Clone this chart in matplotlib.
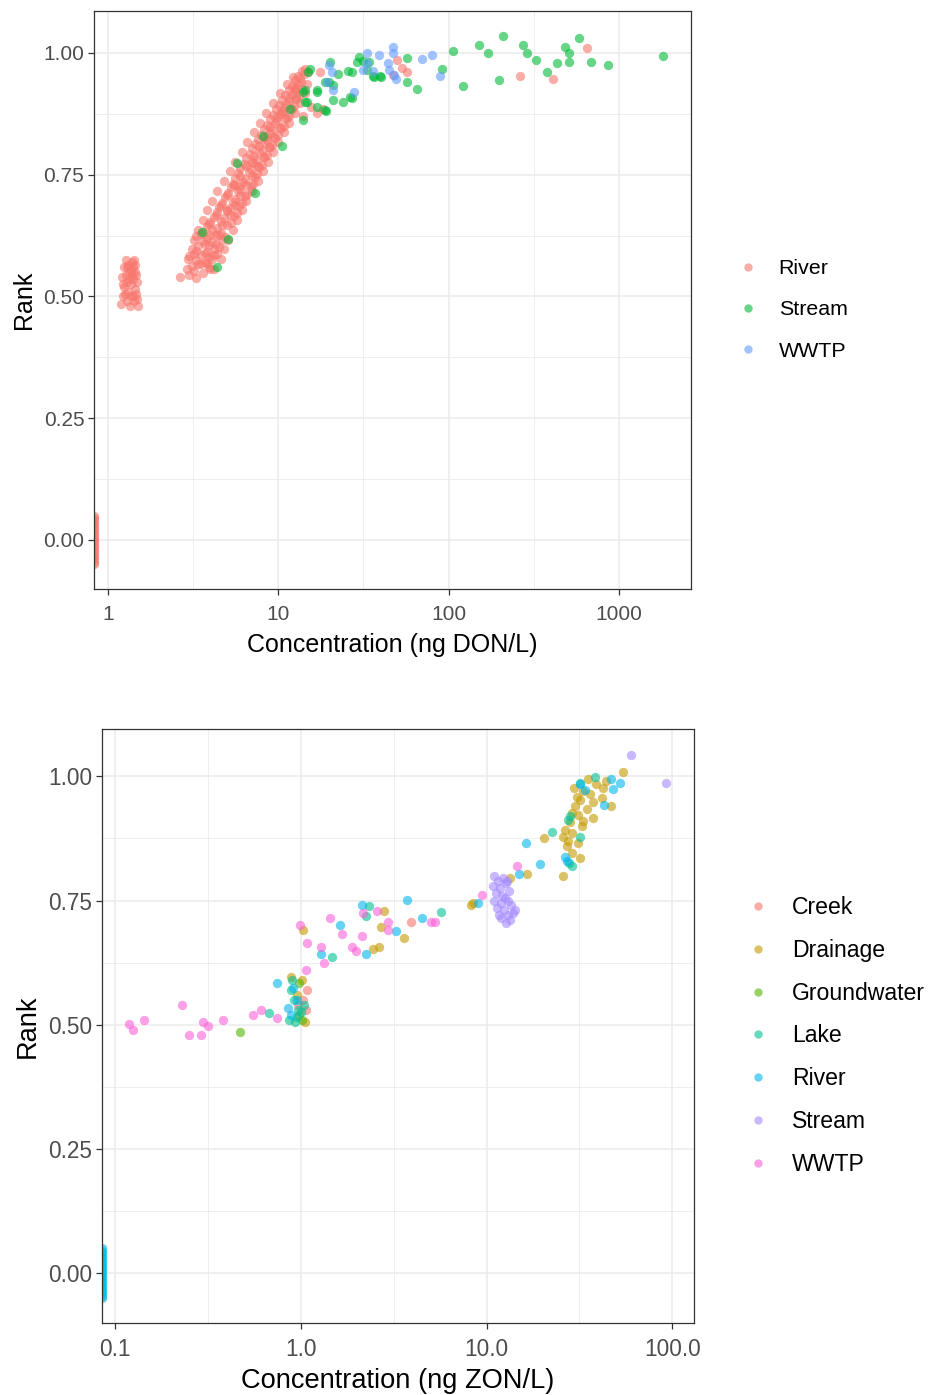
import matplotlib.pyplot as plt
from matplotlib.lines import Line2D
from matplotlib.ticker import FixedLocator, FixedFormatter, NullFormatter

plt.rcParams["font.family"] = ["Liberation Sans", "DejaVu Sans"]

# ggplot hue palettes
don_colors = {"River": "#F8766D", "Stream": "#00BA38", "WWTP": "#619CFF"}
zon_colors = {"Creek": "#F8766D", "Drainage": "#C49A00", "Groundwater": "#53B400",
              "Lake": "#00C094", "River": "#00B6EB", "Stream": "#A58AFF", "WWTP": "#FB61D7"}

# ---------------- DON (ng/L) vs rank ----------------
don_river_conc = [
    1.20, 1.22, 1.25, 1.21, 1.24, 1.27, 1.30, 1.32, 1.29, 1.33, 1.31, 1.35,
    1.37, 1.36, 1.38, 1.40, 1.39, 1.42, 1.44, 1.41, 1.45, 1.43, 1.47, 1.48,
    1.46, 1.50, 1.26, 1.28, 1.34, 1.40, 1.23, 1.45, 1.36, 1.30, 1.49,
    2.65, 3.0, 3.3, 3.2, 3.6, 4.2, 3.1, 3.5, 3.9, 3.3, 3.7, 4.1,
    3.0, 3.5, 3.9, 4.4, 3.3, 3.8, 4.2, 3.4, 3.9, 4.5, 3.6, 4.1, 4.7,
    3.3, 3.8, 4.3, 4.9, 3.6, 4.1, 4.6, 3.8, 4.4, 5.0, 4.0, 4.6, 5.3,
    4.2, 4.8, 5.5, 4.4, 5.0, 5.7, 4.5, 5.2, 5.9, 4.7, 5.4, 6.1,
    4.9, 5.6, 6.4, 5.1, 5.8, 6.6, 5.3, 6.0, 6.9, 5.4, 6.2, 7.1,
    5.6, 6.4, 7.3, 5.8, 6.7, 7.5, 6.0, 6.9, 7.7, 6.3, 7.1, 8.0,
    6.5, 7.4, 8.3, 6.8, 7.7, 8.6, 7.0, 8.0, 8.9, 7.3, 8.3, 9.2,
    7.6, 8.6, 9.6, 7.9, 8.9, 10.0, 8.2, 9.2, 10.4, 8.6, 9.6, 10.8,
    8.9, 9.9, 11.2, 9.3, 10.3, 11.6, 9.7, 10.7, 12.0, 10.1, 11.1, 12.4,
    10.5, 11.6, 12.8, 11.0, 12.0, 13.3, 11.5, 12.5, 13.8, 12.0, 13.0,
    12.5, 13.6, 13.1, 14.2, 13.8, 15.0,
    2.9, 4.0, 2.95, 4.6, 3.1, 4.8, 3.2, 5.1, 3.4, 5.4, 3.6, 5.7,
    3.8, 6.1, 4.1, 6.5, 4.4, 7.0, 4.8, 7.6, 5.2, 8.1, 5.6, 8.7,
    6.1, 9.3, 6.6, 10.0, 7.2, 10.8, 7.8, 11.6, 8.5, 12.5, 9.3, 13.4,
    10.2, 14.3, 11.2, 14.8,
    4.0, 5.0, 5.9, 7.0, 8.6, 10.5, 12.6,
    3.4, 3.8, 3.2, 3.7, 4.2, 3.7, 4.3, 3.5, 4.5, 3.9, 4.7, 4.3, 5.2,
    4.6, 5.6, 5.0, 6.0, 5.5, 6.5, 6.0, 7.0, 6.5, 7.6, 7.2, 8.2,
    7.7, 8.8, 8.3, 9.4, 9.0, 10.2, 9.8, 11.0, 10.8, 11.9, 11.6, 12.8,
    12.6, 13.5, 14.4,
    14.0, 15.5, 17.0, 18.3, 17.6, 12.2, 47.0, 49.6, 57.0, 53.0, 261, 410, 650,
]
don_river_rank = [
    0.485, 0.500, 0.520, 0.540, 0.560, 0.575, 0.490, 0.510, 0.530, 0.550, 0.565, 0.480,
    0.500, 0.525, 0.545, 0.560, 0.570, 0.490, 0.515, 0.535, 0.550, 0.575, 0.505, 0.530,
    0.545, 0.480, 0.505, 0.545, 0.535, 0.500, 0.525, 0.565, 0.555, 0.560, 0.495,
    0.540, 0.545, 0.538, 0.552, 0.549, 0.556, 0.563, 0.566, 0.560, 0.574, 0.571, 0.578,
    0.583, 0.586, 0.581, 0.588, 0.594, 0.592, 0.597, 0.603, 0.606, 0.601, 0.613, 0.611, 0.616,
    0.624, 0.621, 0.626, 0.622, 0.633, 0.636, 0.631, 0.644, 0.641, 0.646, 0.652, 0.655, 0.651,
    0.664, 0.661, 0.666, 0.673, 0.676, 0.671, 0.684, 0.681, 0.686, 0.692, 0.695, 0.691,
    0.704, 0.701, 0.706, 0.713, 0.716, 0.711, 0.724, 0.721, 0.726, 0.732, 0.735, 0.731,
    0.744, 0.741, 0.746, 0.753, 0.756, 0.751, 0.764, 0.761, 0.766, 0.772, 0.775, 0.771,
    0.784, 0.781, 0.786, 0.793, 0.796, 0.791, 0.804, 0.801, 0.806, 0.813, 0.816, 0.811,
    0.824, 0.821, 0.826, 0.832, 0.835, 0.831, 0.844, 0.841, 0.846, 0.853, 0.856, 0.851,
    0.864, 0.861, 0.866, 0.872, 0.875, 0.871, 0.884, 0.881, 0.886, 0.893, 0.896, 0.891,
    0.904, 0.901, 0.906, 0.913, 0.916, 0.911, 0.924, 0.921, 0.926, 0.933, 0.936,
    0.944, 0.941, 0.953, 0.956, 0.964, 0.961,
    0.557, 0.557, 0.577, 0.577, 0.597, 0.597, 0.617, 0.617, 0.637, 0.637, 0.657, 0.657,
    0.677, 0.677, 0.697, 0.697, 0.717, 0.717, 0.737, 0.737, 0.757, 0.757, 0.777, 0.777,
    0.797, 0.797, 0.817, 0.817, 0.837, 0.837, 0.857, 0.857, 0.877, 0.877, 0.897, 0.897,
    0.917, 0.917, 0.937, 0.937,
    0.627, 0.677, 0.727, 0.777, 0.827, 0.877, 0.927,
    0.567, 0.568, 0.588, 0.589, 0.586, 0.607, 0.608, 0.628, 0.626, 0.648, 0.647, 0.668, 0.667,
    0.688, 0.687, 0.708, 0.707, 0.728, 0.729, 0.748, 0.747, 0.768, 0.767, 0.788, 0.787,
    0.808, 0.807, 0.828, 0.827, 0.848, 0.847, 0.868, 0.867, 0.888, 0.887, 0.908, 0.907,
    0.928, 0.948, 0.968,
    0.870, 0.889, 0.876, 0.884, 0.962, 0.950, 0.955, 0.986, 0.962, 0.970, 0.953, 0.947, 1.010,
]

don_stream_conc = [
    106, 150, 170, 208, 275, 288, 325, 432, 377, 482, 509, 509,
    581, 686, 860, 1812, 197, 121, 92, 65, 57, 57, 39.5, 36,
    34, 29, 30, 27, 25.6, 22.4, 20.2, 15.4, 18.8, 21, 21, 24,
    27, 16.9, 14.3, 18.8, 14.3, 17, 19, 20, 31.4, 40, 36.4,
    3.56, 4.4, 5.1, 5.7, 7.3, 8.1, 10.5, 11.7, 13.9, 13.9, 14.7,
    14.9, 16.8, 26.3, 33,
]
don_stream_rank = [
    1.005, 1.017, 1.000, 1.035, 1.017, 0.999, 0.986, 0.980, 0.962, 1.013, 1.000, 0.982,
    1.031, 0.982, 0.976, 0.994, 0.945, 0.933, 0.968, 0.927, 0.941, 0.990, 0.953, 0.953,
    0.982, 0.982, 0.992, 0.962, 0.964, 0.957, 0.982, 0.968, 0.941, 0.935, 0.904, 0.900,
    0.908, 0.920, 0.900, 0.883, 0.925, 0.890, 0.880, 0.940, 0.984, 0.950, 0.950,
    0.633, 0.560, 0.618, 0.775, 0.713, 0.830, 0.810, 0.884, 0.863, 0.920, 0.900,
    0.960, 0.925, 0.910, 0.965,
]

don_wwtp_conc = [33, 39, 47, 47, 70, 80, 89, 31.4, 36, 45, 49, 20.6,
                 20, 19.3, 21, 28, 33, 44, 48]
don_wwtp_rank = [1.000, 0.995, 1.013, 1.000, 0.988, 0.995, 0.953, 0.966, 0.964, 0.966, 0.947, 0.962,
                 0.975, 0.941, 0.925, 0.920, 0.980, 0.980, 0.955]

# non-detects (zero concentration) sit on the left edge of the log axis
don_nd_rank = [-0.05, -0.045, -0.04, -0.035, -0.03, -0.025, -0.02, -0.015, -0.01, -0.005, 0.0,
               0.005, 0.01, 0.015, 0.02, 0.025, 0.03, 0.035, 0.04, 0.045, 0.05]

# ---------------- ZON (ng/L) vs rank ----------------
zon_creek_conc = [3.94, 1.08, 1.03, 0.97, 1.06]
zon_creek_rank = [0.706, 0.569, 0.550, 0.540, 0.530]

zon_drain_conc = [
    54.6, 35, 29.5, 30.5, 32, 37.5, 41.8, 42.5, 47, 34.6, 29, 31,
    37.5, 28.3, 32.5, 26.6, 25.7, 29, 20.5, 31, 31.7, 25.7, 16.6, 13.3,
    8.5, 29, 27, 33, 39, 44, 36, 30, 27.5, 33,
    1.03, 2.8, 2.7, 2.45, 2.63, 3.6, 0.89, 1.01, 0.95, 0.98, 1.05, 8.2,
]
zon_drain_rank = [
    1.008, 0.994, 0.976, 0.958, 0.952, 0.948, 0.956, 0.976, 0.940, 0.935, 0.927, 0.922,
    0.917, 0.907, 0.900, 0.891, 0.877, 0.885, 0.875, 0.865, 0.835, 0.800, 0.804, 0.796,
    0.744, 0.845, 0.860, 0.970, 0.985, 0.990, 0.965, 0.940, 0.870, 0.910,
    0.690, 0.728, 0.696, 0.653, 0.657, 0.675, 0.597, 0.590, 0.560, 0.520, 0.505, 0.740,
]

zon_ground_conc = [0.47, 0.98, 1.02]
zon_ground_rank = [0.486, 0.585, 0.510]

zon_lake_conc = [0.67, 1.47, 2.33, 2.25, 5.7, 0.88, 0.92, 0.97, 0.86, 0.95, 1.04, 0.90,
                 1.00, 0.93, 38.4, 31.7, 22.6, 27.5, 28, 31.7, 28.7, 27.8]
zon_lake_rank = [0.524, 0.637, 0.738, 0.718, 0.726, 0.570, 0.550, 0.530, 0.510, 0.515, 0.540, 0.590,
                 0.525, 0.505, 0.998, 0.986, 0.887, 0.911, 0.920, 0.877, 0.820, 0.825]

zon_river_conc = [0.74, 2.13, 1.63, 1.29, 2.25, 3.27, 3.72, 4.5, 0.85, 0.91, 47, 52,
                  48, 31.7, 33.8, 16.4, 19.4, 15, 9.0, 43, 26.5, 27, 0.95, 0.88]
zon_river_rank = [0.585, 0.740, 0.700, 0.643, 0.643, 0.688, 0.752, 0.714, 0.534, 0.573, 0.994, 0.986,
                  0.975, 0.985, 0.972, 0.865, 0.823, 0.804, 0.744, 0.942, 0.837, 0.830, 0.550, 0.520]

zon_stream_conc = [11.0, 11.5, 12.3, 10.8, 11.8, 12.8, 11.2, 12.1, 13.2, 10.9, 11.9, 12.6,
                   13.5, 11.4, 12.4, 13.0, 12.0, 13.8, 12.7, 13.4, 14.2, 11.6, 12.9, 13.1,
                   60, 93]
zon_stream_rank = [0.800, 0.790, 0.795, 0.780, 0.775, 0.785, 0.765, 0.760, 0.770, 0.750, 0.745, 0.755,
                   0.740, 0.735, 0.730, 0.720, 0.715, 0.725, 0.705, 0.710, 0.730, 0.720, 0.790, 0.750,
                   1.042, 0.986]

zon_wwtp_conc = [0.119, 0.125, 0.143, 0.229, 0.25, 0.29, 0.297, 0.316, 0.38, 0.553, 0.61, 0.74,
                 0.99, 1.08, 1.07, 1.44, 1.29, 1.34, 1.67, 1.89, 1.98, 2.13, 2.16, 2.57,
                 2.94, 2.94, 5.0, 5.3, 14.5, 9.4]
zon_wwtp_rank = [0.502, 0.490, 0.510, 0.540, 0.480, 0.480, 0.506, 0.498, 0.510, 0.520, 0.530, 0.514,
                 0.700, 0.665, 0.610, 0.714, 0.657, 0.625, 0.683, 0.657, 0.649, 0.679, 0.724, 0.728,
                 0.706, 0.690, 0.706, 0.706, 0.819, 0.762]

zon_nd_rank = [-0.05, -0.045, -0.04, -0.035, -0.03, -0.025, -0.02, -0.015, -0.01, -0.005, 0.0,
               0.005, 0.01, 0.015, 0.02, 0.025, 0.03, 0.035, 0.04, 0.045, 0.05]

rank_ticks = [0.0, 0.25, 0.5, 0.75, 1.0]
rank_labels = ["0.00", "0.25", "0.50", "0.75", "1.00"]


def style_axes(ax, xticks, xlabels, xminor, xlabel, fs_tick, fs_title, xpad, titlepad):
    ax.set_xscale("log")
    ax.xaxis.set_major_locator(FixedLocator(xticks))
    ax.xaxis.set_major_formatter(FixedFormatter(xlabels))
    ax.xaxis.set_minor_locator(FixedLocator(xminor))
    ax.xaxis.set_minor_formatter(NullFormatter())
    ax.yaxis.set_major_locator(FixedLocator(rank_ticks))
    ax.yaxis.set_major_formatter(FixedFormatter(rank_labels))
    ax.yaxis.set_minor_locator(FixedLocator([0.125, 0.375, 0.625, 0.875]))
    ax.grid(True, which="major", color="#EBEBEB", linewidth=1.1)
    ax.grid(True, which="minor", color="#EBEBEB", linewidth=0.6)
    ax.set_axisbelow(True)
    for sp in ax.spines.values():
        sp.set_color("#333333")
        sp.set_linewidth(0.9)
    ax.tick_params(which="major", length=4, width=0.9, color="#333333",
                   labelcolor="#4D4D4D", labelsize=fs_tick, pad=3)
    ax.tick_params(axis="x", which="major", pad=xpad)
    ax.tick_params(which="minor", length=0)
    ax.set_xlabel(xlabel, fontsize=fs_title, labelpad=titlepad)
    ax.set_ylabel("Rank", fontsize=fs_title, labelpad=5)


def add_legend(ax, names, colors, x_left, y_center, fs, spacing, textpad):
    handles = [Line2D([], [], linestyle="none", marker="o", markersize=6,
                      markerfacecolor=colors[n], markeredgewidth=0, alpha=0.6)
               for n in names]
    ax.legend(handles, names, loc="center left", bbox_to_anchor=(x_left, y_center),
              bbox_transform=fig.transFigure, frameon=False, fontsize=fs,
              handlelength=1.0, handletextpad=textpad, labelspacing=spacing,
              borderpad=0, borderaxespad=0)


fig = plt.figure(figsize=(9.31, 13.95), dpi=100)
pt_size = 45
pt_alpha = 0.6

# ---- top panel ----
ax1 = fig.add_axes([0.1010, 0.5778, 0.6413, 0.4143])
ax1.set_xlim(0.83, 2650)
ax1.set_ylim(-0.1006, 1.0862)
groups = [("River", don_river_conc, don_river_rank),
          ("Stream", don_stream_conc, don_stream_rank),
          ("WWTP", don_wwtp_conc, don_wwtp_rank)]
for name, xs, ys in groups:
    ax1.scatter(xs, ys, s=pt_size, color=don_colors[name], alpha=pt_alpha, linewidths=0)
ax1.scatter([ax1.get_xlim()[0]] * len(don_nd_rank), don_nd_rank, s=pt_size,
            color=don_colors["River"], alpha=pt_alpha, linewidths=0)
style_axes(ax1, [1, 10, 100, 1000], ["1", "10", "100", "1000"],
           [10 ** 0.5, 10 ** 1.5, 10 ** 2.5], "Concentration (ng DON/L)", 15, 18, 7.5, 6.5)
add_legend(ax1, ["River", "Stream", "WWTP"], don_colors, 737 / 931, 1 - 310 / 1395,
           15.4, 1.05, 0.95)

# ---- bottom panel ----
ax2 = fig.add_axes([0.1096, 0.0516, 0.6359, 0.4258])
ax2.set_xlim(0.085, 131)
ax2.set_ylim(-0.10, 1.095)
groups = [("Creek", zon_creek_conc, zon_creek_rank),
          ("Drainage", zon_drain_conc, zon_drain_rank),
          ("Groundwater", zon_ground_conc, zon_ground_rank),
          ("Lake", zon_lake_conc, zon_lake_rank),
          ("River", zon_river_conc, zon_river_rank),
          ("Stream", zon_stream_conc, zon_stream_rank),
          ("WWTP", zon_wwtp_conc, zon_wwtp_rank)]
for name, xs, ys in groups:
    ax2.scatter(xs, ys, s=pt_size, color=zon_colors[name], alpha=pt_alpha, linewidths=0)
ax2.scatter([ax2.get_xlim()[0]] * len(zon_nd_rank), zon_nd_rank, s=pt_size,
            color=zon_colors["River"], alpha=pt_alpha, linewidths=0)
style_axes(ax2, [0.1, 1, 10, 100], ["0.1", "1.0", "10.0", "100.0"],
           [10 ** -0.5, 10 ** 0.5, 10 ** 1.5], "Concentration (ng ZON/L)", 16.3, 19.6, 6.5, 5.5)
add_legend(ax2, list(zon_colors), zon_colors, 746 / 931, 1 - 1036 / 1395,
           16.6, 0.86, 1.0)

fig.savefig("out.png", dpi=100)
